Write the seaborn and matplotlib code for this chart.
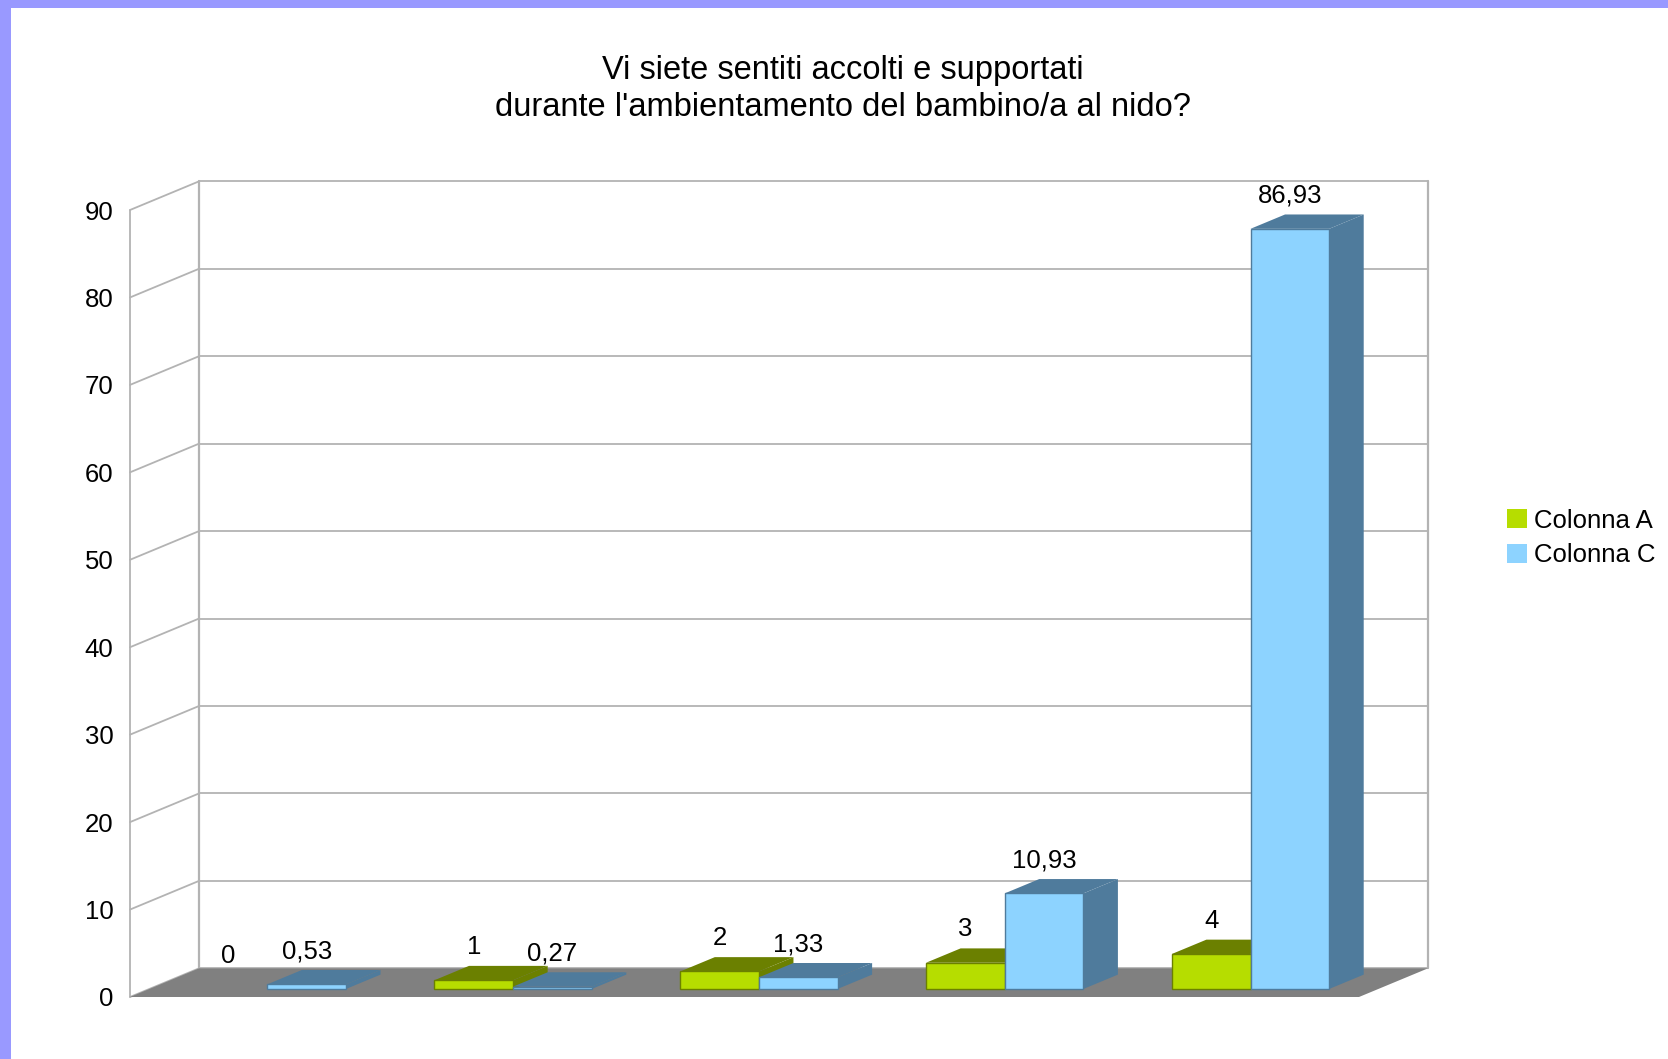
import pandas as pd
import matplotlib
matplotlib.use("Agg")
import matplotlib.pyplot as plt
from matplotlib.patches import Polygon, Patch, Rectangle
import seaborn as sns

# dati del grafico
categorie = ["1", "2", "3", "4", "5"]
colonna_a = [0, 1, 2, 3, 4]
colonna_c = [0.53, 0.27, 1.33, 10.93, 86.93]
serie = ["Colonna A", "Colonna C"]
y_ticks = [0, 10, 20, 30, 40, 50, 60, 70, 80, 90]
titolo = "Vi siete sentiti accolti e supportati\ndurante l'ambientamento del bambino/a al nido?"

colori_fronte = ["#b6dd00", "#8dd3ff"]
colori_lato = ["#6b8000", "#4f7b9c"]

sns.set_theme(style="white")
plt.rcParams['font.family'] = ['Liberation Sans', 'DejaVu Sans']
plt.rcParams['text.color'] = 'black'
plt.rcParams['ytick.color'] = 'black'

df = pd.DataFrame({
    "cat": categorie * 2,
    "serie": [serie[0]] * 5 + [serie[1]] * 5,
    "valore": colonna_a + colonna_c,
})

fig = plt.figure(figsize=(16.68, 10.59), dpi=100)
ax = fig.add_axes([130 / 1668, 62 / 1059, 1229 / 1668, 787 / 1059])

sns.barplot(data=df, x="cat", y="valore", hue="serie", palette=colori_fronte,
            width=0.64, dodge=True, ax=ax, legend=False, saturation=1,
            errorbar=None)

ax.set_xlim(-0.5, 4.5)
ax.set_ylim(0, 90)

# vettore di profondita (in unita dati)
DX, DY = 0.281, 3.28
F0, F1 = 0.28, 0.78
grigio = "#b3b3b3"

# pareti: fondo, lato sinistro, pavimento
for t in y_ticks:
    ax.plot([-0.5 + DX, 4.5 + DX], [t + DY, t + DY], color=grigio, lw=1.3,
            clip_on=False, zorder=0.5)
    ax.plot([-0.5, -0.5 + DX], [t, t + DY], color=grigio, lw=1.3,
            clip_on=False, zorder=0.5)
ax.plot([-0.5, -0.5], [0, 90], color=grigio, lw=1.3, clip_on=False, zorder=0.5)
ax.plot([-0.5 + DX, -0.5 + DX], [DY, 90 + DY], color=grigio, lw=1.6, clip_on=False, zorder=0.5)
ax.plot([4.5 + DX, 4.5 + DX], [DY, 90 + DY], color=grigio, lw=1.6, clip_on=False, zorder=0.5)
pavimento = Polygon([(-0.5, 0), (4.5, 0), (4.5 + DX, DY), (-0.5 + DX, DY)],
                    closed=True, facecolor="#808080", edgecolor="none",
                    clip_on=False, zorder=1)
ax.add_patch(pavimento)

# barre in pseudo-3D
d = F1 - F0
for i, cont in enumerate(ax.containers):
    for j, bar in enumerate(cont):
        x0 = bar.get_x() + F0 * DX - 0.02
        y0 = F0 * DY
        w = bar.get_width()
        h = bar.get_height()
        z = 2 + i * 0.5
        bar.set_x(x0)
        bar.set_y(y0)
        bar.set_zorder(z + 0.2)
        bar.set_clip_on(False)
        bar.set_edgecolor(colori_lato[i])
        bar.set_linewidth(1.0)
        if h > 0:
            top = Polygon([(x0, y0 + h), (x0 + w, y0 + h),
                           (x0 + w + d * DX, y0 + h + d * DY), (x0 + d * DX, y0 + h + d * DY)],
                          closed=True, facecolor=colori_lato[i], edgecolor="none",
                          clip_on=False, zorder=z)
            lato = Polygon([(x0 + w, y0), (x0 + w, y0 + h),
                            (x0 + w + d * DX, y0 + h + d * DY), (x0 + w + d * DX, y0 + d * DY)],
                           closed=True, facecolor=colori_lato[i], edgecolor="none",
                           clip_on=False, zorder=z)
            ax.add_patch(top)
            ax.add_patch(lato)
        else:
            bar.set_visible(False)
        testo = f"{h:g}".replace(".", ",")
        ax.annotate(testo, (x0 + w / 2, y0 + h + d * DY),
                    xytext=(0, 5), textcoords="offset points", ha="center",
                    va="bottom", fontsize=18.5, color="black", zorder=5)

ax.set_yticks(y_ticks)
ax.set_yticklabels([str(t) for t in y_ticks], fontsize=18.5)
ax.tick_params(axis="y", length=0, pad=12, labelcolor="black")
ax.set_xticks([])
ax.set_xlabel("")
ax.set_ylabel("")
for s in ax.spines.values():
    s.set_visible(False)
ax.patch.set_alpha(0)

fig.text(843 / 1668, 1 - 89 / 1059, titolo, ha="center", va="center",
         fontsize=23.5, linespacing=1.28, color="black")

maniglie = [Patch(facecolor=c, edgecolor="none") for c in colori_fronte]
fig.legend(maniglie, serie, loc="center left", bbox_to_anchor=(1484 / 1668, 1 - 538 / 1059),
           frameon=False, fontsize=18.5, handlelength=0.78, handleheight=0.78,
           handletextpad=0.25, labelspacing=0.42, labelcolor="black")

# bordo viola in alto e a sinistra
fig.patches.append(Rectangle((0, 1 - 8 / 1059), 1, 8 / 1059, transform=fig.transFigure,
                             facecolor="#9999ff", edgecolor="none", figure=fig))
fig.patches.append(Rectangle((0, 0), 11 / 1668, 1, transform=fig.transFigure,
                             facecolor="#9999ff", edgecolor="none", figure=fig))

fig.savefig("out.png", dpi=100)
